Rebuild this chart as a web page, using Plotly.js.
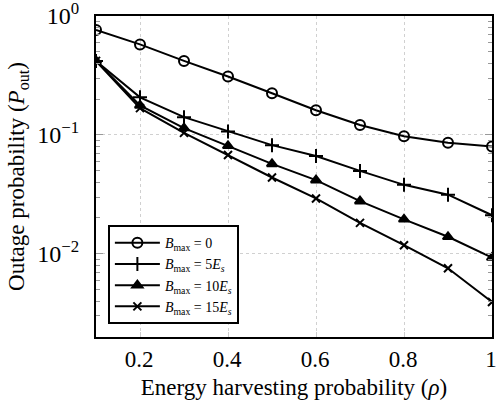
<!DOCTYPE html>
<html>
<head>
<script src="https://cdn.plot.ly/plotly-3.0.1.min.js"></script>
<style>html,body{margin:0;padding:0;background:#fff;}#chart{width:498px;height:401px;}</style>
</head>
<body>
<div id="chart"></div>
<script>
var rho = [0.1, 0.2, 0.3, 0.4, 0.5, 0.6, 0.7, 0.8, 0.9, 1.0];
var pB0  = [0.764, 0.577, 0.419, 0.310, 0.224, 0.161, 0.121, 0.0975, 0.0858, 0.080];
var pB5  = [0.419, 0.207, 0.141, 0.107, 0.082, 0.0664, 0.0498, 0.038, 0.0314, 0.0211];
var pB10 = [0.419, 0.177, 0.114, 0.081, 0.057, 0.0416, 0.0277, 0.0195, 0.0139, 0.0093];
var pB15 = [0.419, 0.168, 0.104, 0.0677, 0.0438, 0.0292, 0.0182, 0.0118, 0.00755, 0.00393];
var names = ['<i>B</i><sub>max</sub> = 0', '<i>B</i><sub>max</sub> = 5<i>E<sub>s</sub></i>',
             '<i>B</i><sub>max</sub> = 10<i>E<sub>s</sub></i>', '<i>B</i><sub>max</sub> = 15<i>E<sub>s</sub></i>'];
var yTickVals = [1, 0.1, 0.01];
var yTickText = ['10<sup>0</sup>', '10<sup>\u22121</sup>', '10<sup>\u22122</sup>'];
var xTickVals = [0.2, 0.4, 0.6, 0.8, 1];
var xTickText = ['0.2', '0.4', '0.6', '0.8', '1'];

var FAM = 'Liberation Serif';
var series = [pB0, pB5, pB10, pB15];
var symbols = ['circle-open', 'cross-thin-open', 'triangle-up', 'x-thin-open'];
var sizes = [10, 10, 9, 8];
var traces = series.map(function (s, i) {
  return {
    x: rho, y: s, name: names[i], type: 'scatter', mode: 'lines+markers',
    line: {color: 'black', width: 2},
    marker: {symbol: symbols[i], size: sizes[i], color: 'black', line: {color: 'black', width: 2}}
  };
});

var layout = {
  width: 498, height: 401,
  margin: {l: 96, r: 6, t: 16, b: 64},
  paper_bgcolor: 'white', plot_bgcolor: 'white',
  font: {family: FAM, size: 22, color: 'black'},
  showlegend: true,
  legend: {x: 0.03, y: 0.04, xanchor: 'left', yanchor: 'bottom', bgcolor: 'white',
           bordercolor: 'black', borderwidth: 2, itemwidth: 45,
           font: {family: FAM, size: 14, color: 'black'}, tracegroupgap: 0},
  xaxis: {
    range: [0.1, 1], tickvals: xTickVals, ticktext: xTickText,
    showline: true, linecolor: 'black', linewidth: 2, mirror: true,
    ticks: 'inside', ticklen: 5, tickcolor: '#ccc',
    showgrid: true, gridcolor: '#d0d0d0', griddash: 'dot', gridwidth: 1,
    zeroline: false, automargin: false, ticklabeloverflow: 'allow', ticklabelshift: -1,
    tickfont: {family: FAM, size: 23, color: 'black'},
    title: {text: 'Energy harvesting probability (<i>\u03c1</i>)', font: {family: FAM, size: 23, color: 'black'}, standoff: 8}
  },
  yaxis: {
    type: 'log', range: [-2.7, 0], tickvals: yTickVals, ticktext: yTickText,
    showline: true, linecolor: 'black', linewidth: 2, mirror: 'allticks',
    ticks: 'inside', ticklen: 7, tickcolor: '#999',
    minor: {ticks: 'inside', ticklen: 4, tickcolor: '#999', showgrid: false, dtick: 'D1'},
    showgrid: true, gridcolor: '#d0d0d0', griddash: 'dot', gridwidth: 1,
    zeroline: false, automargin: false, ticklabeloverflow: 'allow', ticklabelstandoff: 10,
    tickfont: {family: FAM, size: 24, color: 'black'},
    title: {text: 'Outage probability (<i>P</i><sub>out</sub>)', font: {family: FAM, size: 23, color: 'black'}, standoff: 6}
  }
};
Plotly.newPlot('chart', traces, layout, {staticPlot: true, displayModeBar: false});
</script>
</body>
</html>
